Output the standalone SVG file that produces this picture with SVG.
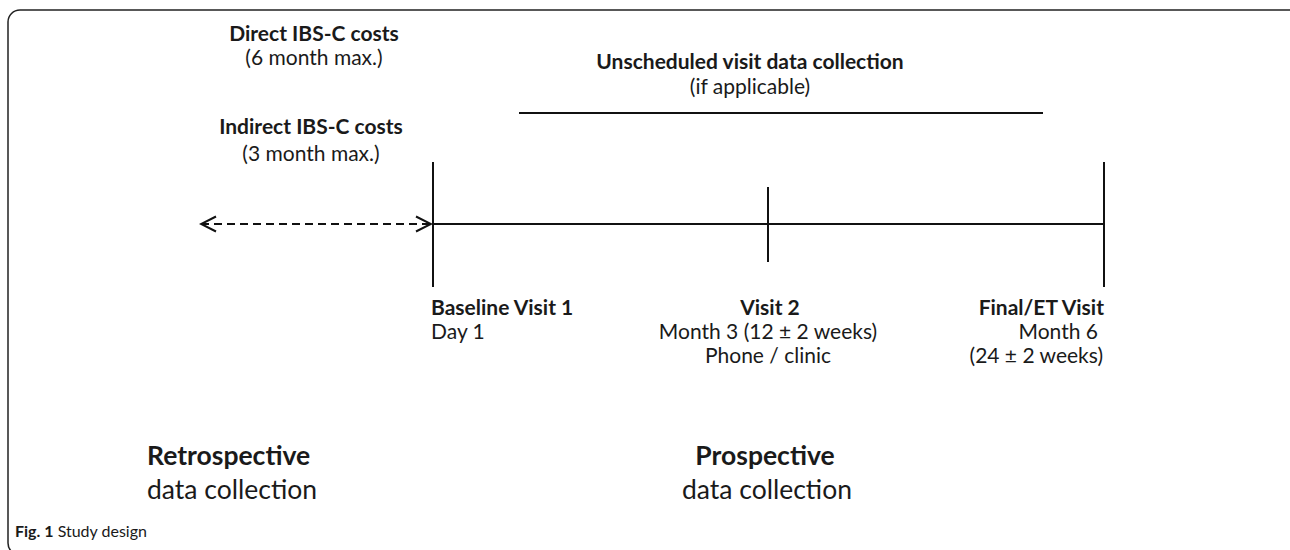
<svg xmlns="http://www.w3.org/2000/svg" width="1290" height="550" viewBox="0 0 1290 550">
<style>
text{font-family:Lato,"Liberation Sans",sans-serif;fill:#1a1a1a}
.b{font-weight:bold}
.l{font-size:21px}
.big{font-size:26.5px}
.cap{font-size:16px}
.m{text-anchor:middle}
.e{text-anchor:end}
.ln{stroke:#111;stroke-width:2;fill:none}
</style>
<defs>
<marker id="chev" viewBox="0 0 18 18" refX="16" refY="9" markerWidth="18" markerHeight="18" markerUnits="userSpaceOnUse" orient="auto-start-reverse">
<path d="M1,1.5 L16,9 L1,16.5" fill="none" stroke="#111" stroke-width="2"/>
</marker>
</defs>
<rect x="8" y="10" width="1295" height="545" rx="12" fill="none" stroke="#222" stroke-width="1.5"/>
<g id="connectors">
<line class="ln" x1="201" y1="224" x2="431" y2="224" stroke-dasharray="8 5" marker-start="url(#chev)" marker-end="url(#chev)"/>
<line class="ln" x1="433" y1="224" x2="1104" y2="224"/>
<line class="ln" x1="519" y1="113" x2="1043" y2="113"/>
<line class="ln" x1="433" y1="162" x2="433" y2="287"/>
<line class="ln" x1="768" y1="187" x2="768" y2="262"/>
<line class="ln" x1="1104" y1="162" x2="1104" y2="287"/>
</g>
<g id="direct">
<text class="l b m" x="314" y="41">Direct IBS-C costs</text>
<text class="l m" x="314" y="65">(6 month max.)</text>
</g>
<g id="indirect">
<text class="l b m" x="311" y="134">Indirect IBS-C costs</text>
<text class="l m" x="311" y="161">(3 month max.)</text>
</g>
<g id="unscheduled">
<text class="l b m" x="750" y="69">Unscheduled visit data collection</text>
<text class="l m" x="750" y="94">(if applicable)</text>
</g>
<g id="baseline">
<text class="l b" x="431" y="315">Baseline Visit 1</text>
<text class="l" x="431" y="339">Day 1</text>
</g>
<g id="visit2">
<text class="l b m" x="770" y="315">Visit 2</text>
<text class="l m" x="768" y="339">Month 3 (12 ± 2 weeks)</text>
<text class="l m" x="768" y="363">Phone / clinic</text>
</g>
<g id="final">
<text class="l b e" x="1104" y="315">Final/ET Visit</text>
<text class="l e" x="1098" y="339">Month 6</text>
<text class="l e" x="1103" y="363">(24 ± 2 weeks)</text>
</g>
<g id="retro">
<text class="big b" x="147" y="465">Retrospective</text>
<text class="big" x="147" y="499">data collection</text>
</g>
<g id="prosp">
<text class="big b m" x="765" y="465">Prospective</text>
<text class="big m" x="767" y="499">data collection</text>
</g>
<g id="caption">
<text class="cap" x="15" y="537"><tspan class="b">Fig. 1</tspan> Study design</text>
</g>
</svg>
